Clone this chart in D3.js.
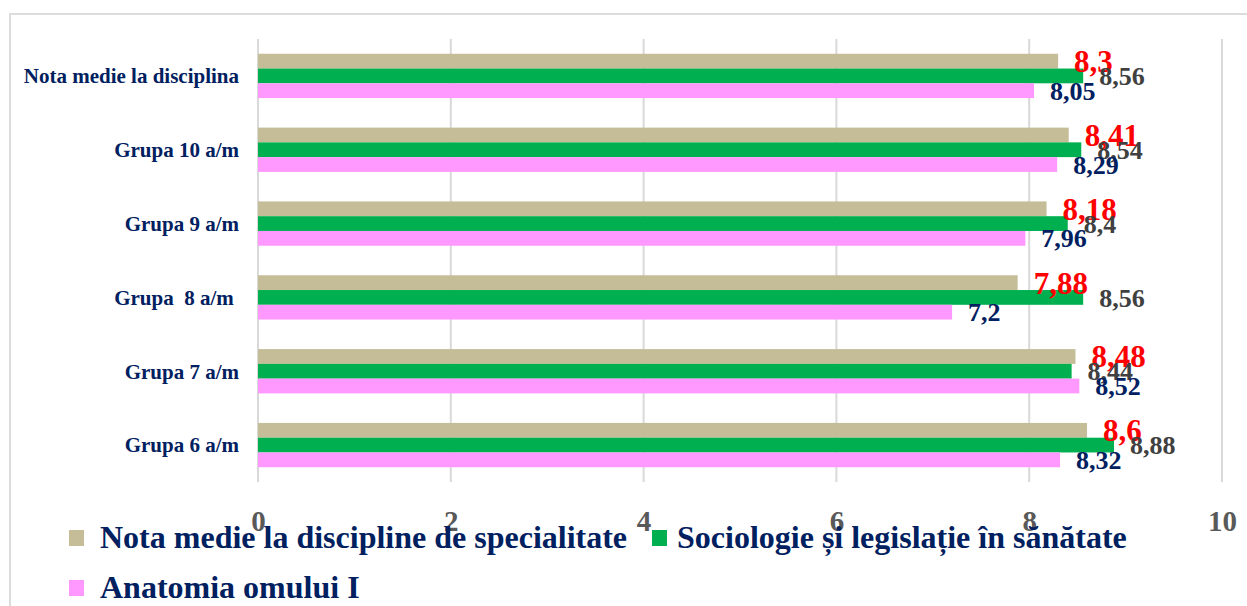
<!DOCTYPE html>
<html>
<head>
<meta charset="utf-8">
<script src="https://cdn.jsdelivr.net/npm/d3@7"></script>
<style>
  body { margin: 0; background: #fff; }
  text { font-family: "Liberation Serif", "Times New Roman", serif; font-weight: bold; }
</style>
</head>
<body>
<div class="chart"></div>
<script>
var categories = ["Nota medie la disciplina", "Grupa 10 a/m", "Grupa 9 a/m", "Grupa  8 a/m ", "Grupa 7 a/m", "Grupa 6 a/m"];
var seriesNames = ["Nota medie la discipline de specialitate", "Sociologie și legislație în sănătate", "Anatomia omului I"];
var specialitate = [8.3, 8.41, 8.18, 7.88, 8.48, 8.6];
var sociologie = [8.56, 8.54, 8.4, 8.56, 8.44, 8.88];
var anatomie = [8.05, 8.29, 7.96, 7.2, 8.52, 8.32];
var tickValues = [0, 2, 4, 6, 8, 10];

var width = 1247, height = 606;
var colors = ["#C4BD97", "#00B050", "#FF99FF"];
var labelColors = ["#FF0000", "#404040", "#002060"];
var labelSizes = [31, 26, 26];
var values = [specialitate, sociologie, anatomie];

var svg = d3.select(".chart").append("svg")
    .attr("width", width)
    .attr("height", height);

// chart frame (only left and top edges are visible)
svg.append("rect")
    .attr("x", 10).attr("y", 14)
    .attr("width", 1260).attr("height", 620)
    .attr("fill", "none")
    .attr("stroke", "#D9D9D9")
    .attr("stroke-width", 1.8);

var x = d3.scaleLinear().domain([0, 10]).range([258, 1222]);
var y = d3.scaleBand().domain(categories).range([39, 482])
    .paddingInner(0.4).paddingOuter(0.2);
var ySub = d3.scaleBand().domain(d3.range(seriesNames.length)).range([0, y.bandwidth()]);

// gridlines
svg.append("g").selectAll("line")
    .data(tickValues)
    .enter().append("line")
    .attr("x1", function(d) { return x(d); })
    .attr("x2", function(d) { return x(d); })
    .attr("y1", 39).attr("y2", 482)
    .attr("stroke", "#D9D9D9")
    .attr("stroke-width", 2);

// x axis labels
var xAxis = svg.append("g")
    .attr("transform", "translate(0,510)")
    .call(d3.axisBottom(x).tickValues(tickValues).tickSize(0).tickPadding(0).tickFormat(d3.format("d")));
xAxis.select(".domain").remove();
xAxis.selectAll("text")
    .attr("y", 21)
    .attr("dy", 0)
    .attr("fill", "#595959")
    .style("font-size", "29px")
    .style("font-family", "'Liberation Serif', 'Times New Roman', serif")
    .style("font-weight", "bold");

// category labels
svg.append("g").selectAll("text")
    .data(categories)
    .enter().append("text")
    .attr("x", 239)
    .attr("y", function(d) { return y(d) + y.bandwidth() / 2; })
    .attr("dy", "0.35em")
    .attr("text-anchor", "end")
    .attr("fill", "#002060")
    .style("font-size", "21px")
    .style("white-space", "pre")
    .text(function(d) { return d; });

// bars
var rows = [];
categories.forEach(function(c, i) {
  values.forEach(function(v, s) { rows.push({cat: c, s: s, v: v[i]}); });
});

svg.append("g").selectAll("rect")
    .data(rows)
    .enter().append("rect")
    .attr("x", x(0))
    .attr("y", function(d) { return y(d.cat) + ySub(d.s); })
    .attr("width", function(d) { return x(d.v) - x(0); })
    .attr("height", ySub.bandwidth())
    .attr("fill", function(d) { return colors[d.s]; });

// value labels, drawn in series order so the red ones come first
svg.append("g").selectAll("text")
    .data(rows.slice().sort(function(a, b) { return a.s - b.s; }))
    .enter().append("text")
    .attr("x", function(d) { return x(d.v) + 16; })
    .attr("y", function(d) { return y(d.cat) + ySub(d.s) + ySub.bandwidth() / 2; })
    .attr("dy", "0.35em")
    .attr("fill", function(d) { return labelColors[d.s]; })
    .style("font-size", function(d) { return labelSizes[d.s] + "px"; })
    .text(function(d) { return String(d.v).replace(".", ","); });

// legend
var legendPos = [[69, 548], [652, 548], [69, 598]];
var legend = svg.append("g").selectAll("g")
    .data(seriesNames)
    .enter().append("g")
    .attr("transform", function(d, i) { return "translate(" + legendPos[i][0] + "," + legendPos[i][1] + ")"; });

legend.append("rect")
    .attr("x", 0).attr("y", -18)
    .attr("width", 15).attr("height", 16)
    .attr("fill", function(d, i) { return colors[i]; });

legend.append("text")
    .attr("x", function(d, i) { return i == 1 ? 25 : 31; })
    .attr("y", 0)
    .attr("fill", "#002060")
    .style("font-size", "32px")
    .text(function(d) { return d; });
</script>
</body>
</html>
